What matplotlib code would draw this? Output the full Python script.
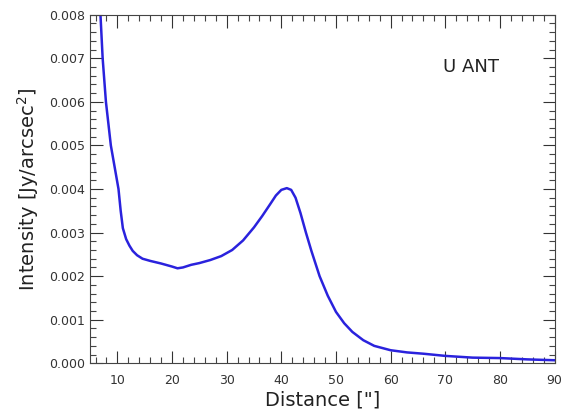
import matplotlib
matplotlib.use("Agg")
import matplotlib.pyplot as plt
from matplotlib.ticker import MultipleLocator, FormatStrFormatter

# radial profile
distance = [6.9, 7.3, 7.9, 8.8, 9.5, 10.2, 10.6, 11.0, 11.6, 12.2, 12.8, 13.6,
            14.6, 16.0, 18.0, 20.0, 21.0, 22.0, 23.5, 25.0, 27.0, 29.0, 31.0,
            33.0, 35.0, 36.5, 38.0, 39.0, 40.0, 41.0, 41.8, 42.6, 43.5, 44.5,
            45.5, 47.0, 48.5, 50.0, 51.5, 53.0, 55.0, 57.0, 60.0, 63.0, 66.0,
            70.0, 75.0, 80.0, 85.0, 90.0]
intensity = [0.0080, 0.0070, 0.0060, 0.0050, 0.0045, 0.0040, 0.0035, 0.0031,
             0.00285, 0.00270, 0.00258, 0.00248, 0.00240, 0.00235, 0.00229,
             0.00222, 0.00218, 0.00220, 0.00226, 0.00230, 0.00237, 0.00246,
             0.00260, 0.00282, 0.00312, 0.00338, 0.00366, 0.00385, 0.00398,
             0.00402, 0.00398, 0.00380, 0.00345, 0.00300, 0.00258, 0.00200,
             0.00155, 0.00118, 0.00092, 0.00072, 0.00053, 0.00040, 0.00030,
             0.00025, 0.00022, 0.00017, 0.00013, 0.00012, 0.00009, 0.00007]

source = "U ANT"

fig, ax = plt.subplots(figsize=(5.63, 4.2), dpi=100)
fig.subplots_adjust(left=0.16, right=0.985, top=0.965, bottom=0.135)

ax.plot(distance, intensity, color="#2a22dd", linewidth=1.8)

ax.set_xlim(5, 90)
ax.set_ylim(0, 0.008)
ax.xaxis.set_major_locator(MultipleLocator(10))
ax.xaxis.set_minor_locator(MultipleLocator(2))
ax.yaxis.set_major_locator(MultipleLocator(0.001))
ax.yaxis.set_minor_locator(MultipleLocator(0.0002))
ax.yaxis.set_major_formatter(FormatStrFormatter("%.3f"))

ax.tick_params(which="both", direction="in", top=True, right=True, color="#444444")
ax.tick_params(which="major", length=9, width=0.8, labelsize=9, colors="#333333")
ax.tick_params(which="minor", length=4, width=0.8)
ax.tick_params(axis="x", pad=8)
for s in ax.spines.values():
    s.set_color("#444444")
    s.set_linewidth(0.8)

ax.set_xlabel('Distance ["]', fontsize=14, color="#222222", labelpad=2)
ax.set_ylabel("Intensity [Jy/arcsec$^2$]", fontsize=14, color="#222222", labelpad=6)
ax.text(69.5, 0.0068, source, fontsize=13, color="#222222", va="center")

fig.savefig("out.png", dpi=100)
